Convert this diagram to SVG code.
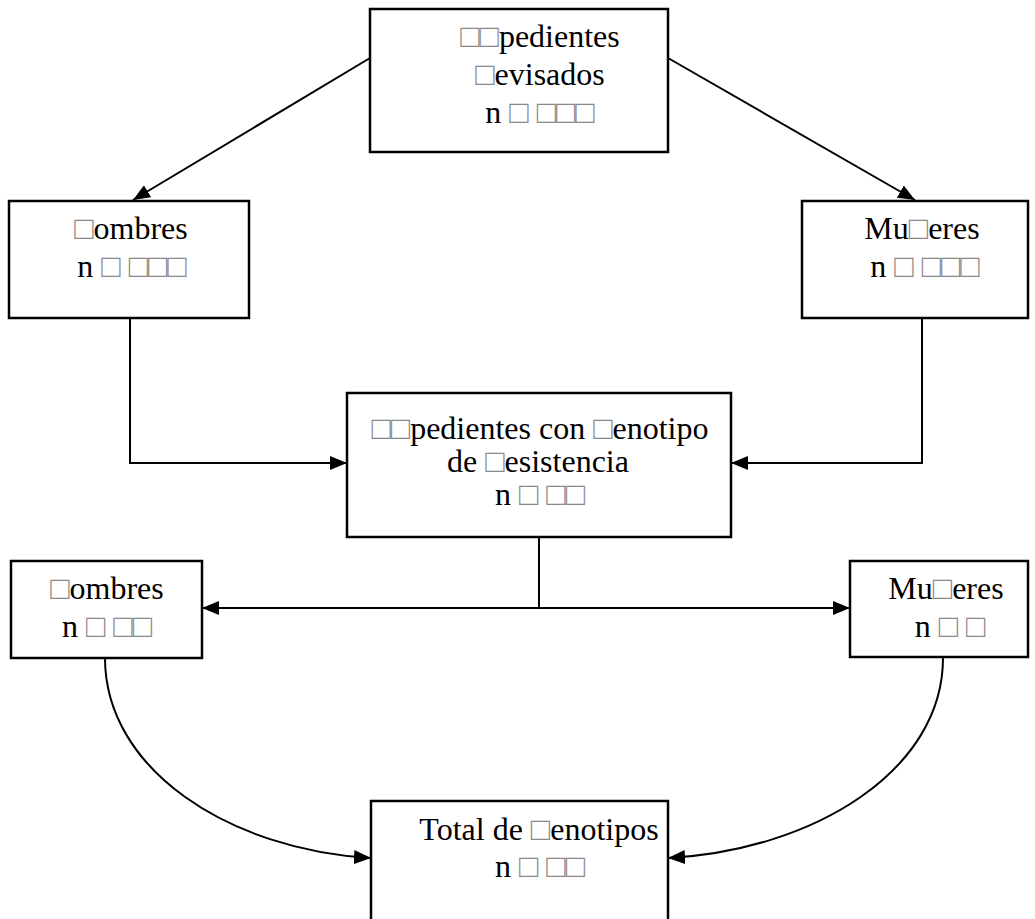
<svg xmlns="http://www.w3.org/2000/svg" width="1035" height="919" viewBox="0 0 1035 919">
<defs>
<marker id="ah" markerUnits="userSpaceOnUse" markerWidth="18" markerHeight="14" refX="17" refY="7" orient="auto">
<path d="M0,0 L17,7 L0,14 z" fill="#000"/>
</marker>
<marker id="ahs" markerUnits="userSpaceOnUse" markerWidth="18" markerHeight="14" refX="1" refY="7" orient="auto">
<path d="M18,0 L1,7 L18,14 z" fill="#000"/>
</marker>
<style>
.box{fill:#fff;stroke:#000;stroke-width:2.5}
.lbl{font-family:"Liberation Serif","Times New Roman",serif;font-size:32px;fill:#000;text-anchor:middle}
.t{fill:#8a8a8a}
.ln{fill:none;stroke:#000;stroke-width:2}
</style>
</defs>
<rect width="1035" height="919" fill="#fff"/>
<g id="connectors">
<line class="ln" x1="370" y1="58" x2="133" y2="200" marker-end="url(#ah)"/>
<line class="ln" x1="668" y1="58" x2="915" y2="200" marker-end="url(#ah)"/>
<polyline class="ln" points="130,318 130,463 347,463" marker-end="url(#ah)"/>
<polyline class="ln" points="922,318 922,463 731,463" marker-end="url(#ah)"/>
<line class="ln" x1="539" y1="537" x2="539" y2="608"/>
<line class="ln" x1="202" y1="608" x2="850" y2="608" marker-start="url(#ahs)" marker-end="url(#ah)"/>
<path class="ln" d="M105,658 C105,770 230,850 371,858" marker-end="url(#ah)"/>
<path class="ln" d="M943,658 C943,770 815,850 668,858" marker-end="url(#ah)"/>
</g>
<g id="node-expedientes">
<rect class="box" x="370" y="9" width="298" height="143"/>
<text class="lbl" x="540" y="47"><tspan class="t">□□</tspan>pedientes</text>
<text class="lbl" x="540" y="85"><tspan class="t">□</tspan>evisados</text>
<text class="lbl" x="540" y="123">n <tspan class="t">□ □□□</tspan></text>
</g>
<g id="node-hombres1">
<rect class="box" x="9" y="201" width="240" height="117"/>
<text class="lbl" x="131" y="239"><tspan class="t">□</tspan>ombres</text>
<text class="lbl" x="132" y="277">n <tspan class="t">□ □□□</tspan></text>
</g>
<g id="node-mujeres1">
<rect class="box" x="802" y="201" width="226" height="117"/>
<text class="lbl" x="922" y="239">Mu<tspan class="t">□</tspan>eres</text>
<text class="lbl" x="925" y="277">n <tspan class="t">□ □□□</tspan></text>
</g>
<g id="node-fenotipo">
<rect class="box" x="347" y="393" width="384" height="144"/>
<text class="lbl" x="540" y="439"><tspan class="t">□□</tspan>pedientes con <tspan class="t">□</tspan>enotipo</text>
<text class="lbl" x="538" y="472">de <tspan class="t">□</tspan>esistencia</text>
<text class="lbl" x="540" y="505">n <tspan class="t">□ □□</tspan></text>
</g>
<g id="node-hombres2">
<rect class="box" x="11" y="561" width="191" height="97"/>
<text class="lbl" x="107" y="599"><tspan class="t">□</tspan>ombres</text>
<text class="lbl" x="107" y="637">n <tspan class="t">□ □□</tspan></text>
</g>
<g id="node-mujeres2">
<rect class="box" x="850" y="561" width="178" height="96"/>
<text class="lbl" x="946" y="599">Mu<tspan class="t">□</tspan>eres</text>
<text class="lbl" x="950" y="637">n <tspan class="t">□ □</tspan></text>
</g>
<g id="node-total">
<rect class="box" x="371" y="801" width="297" height="125"/>
<text class="lbl" x="539" y="840">Total de <tspan class="t">□</tspan>enotipos</text>
<text class="lbl" x="540" y="877">n <tspan class="t">□ □□</tspan></text>
</g>
</svg>
